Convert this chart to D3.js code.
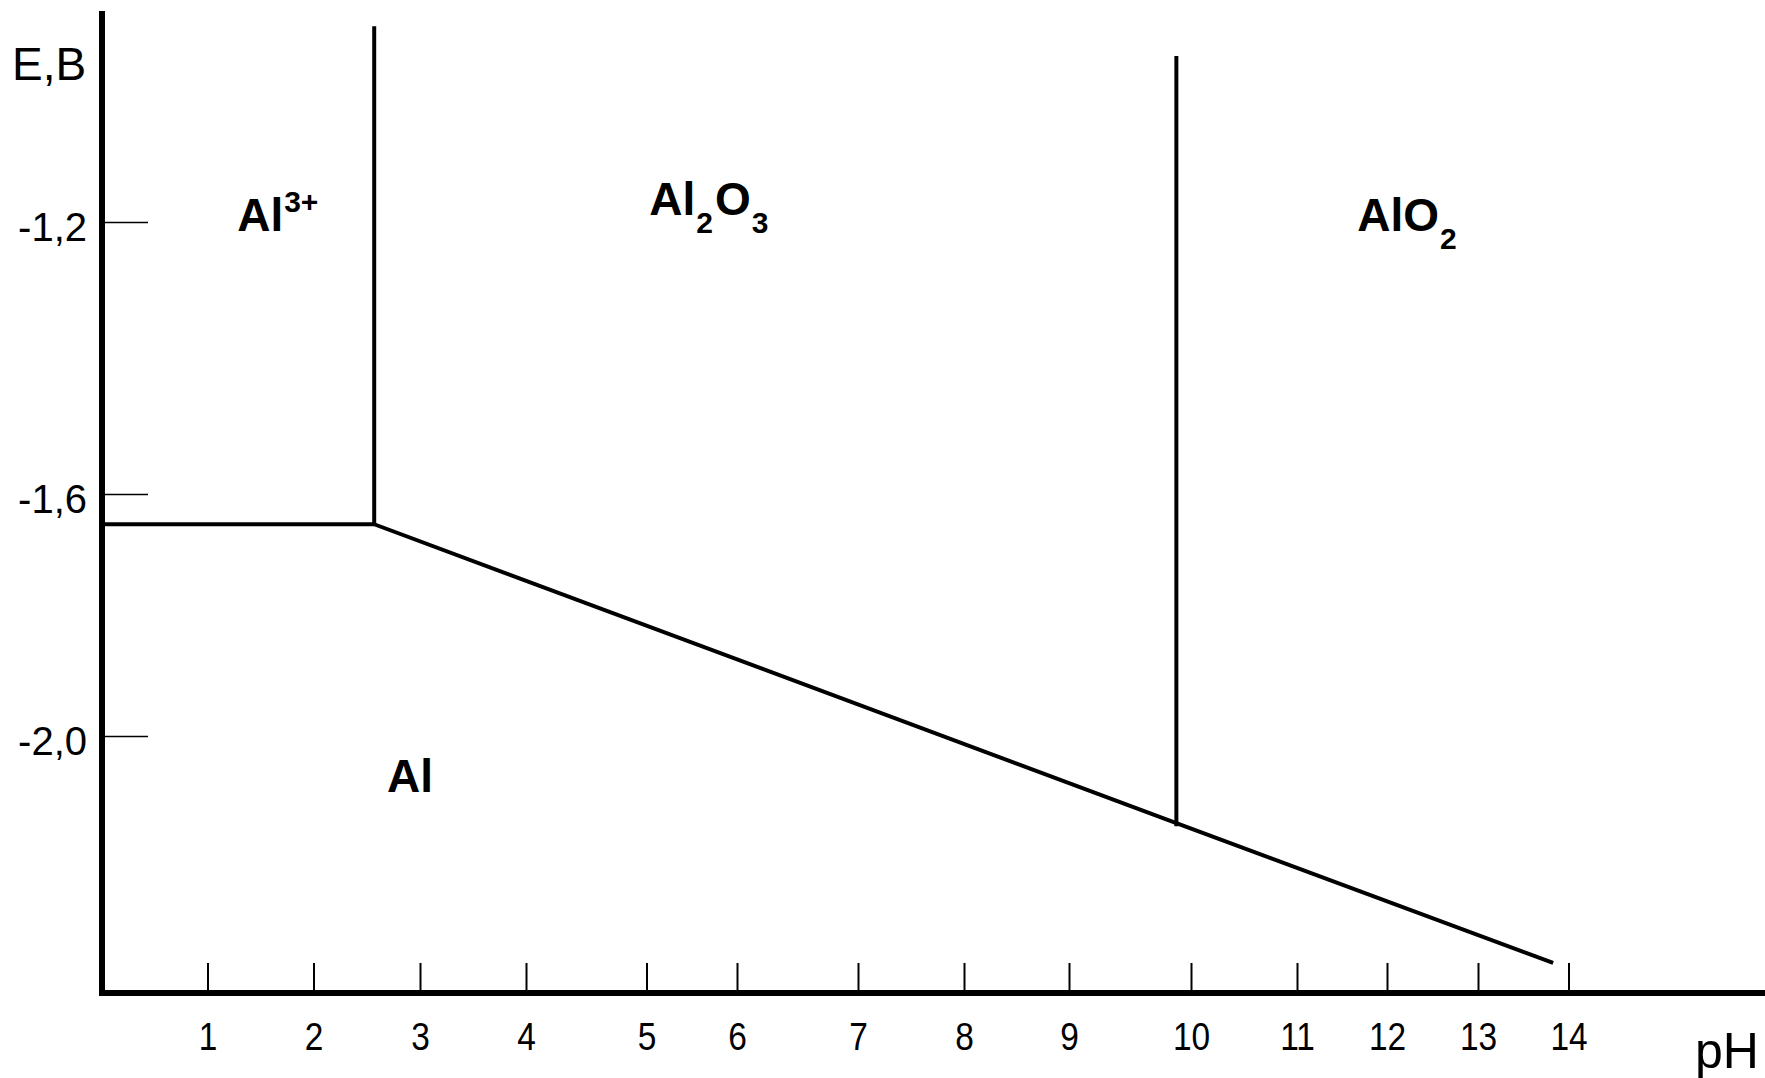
<!DOCTYPE html>
<html>
<head>
<meta charset="utf-8">
<script src="https://cdn.jsdelivr.net/npm/d3@7"></script>
<style>
  html, body { margin: 0; padding: 0; background: #fff; }
  svg { display: block; font-family: "Liberation Sans", Arial, sans-serif; }
</style>
</head>
<body>
<svg id="chart" width="1765" height="1078"></svg>
<script>
// ---------------- data ----------------
const phTicks = [1, 2, 3, 4, 5, 6, 7, 8, 9, 10, 11, 12, 13, 14];
const eTicks = [-1.2, -1.6, -2.0];

// boundary lines of the Pourbaix (E–pH) diagram of aluminium: [pH, E]
const lineAl3Al = [[0, -1.65], [2.57, -1.65]];
const lineAl3Al2O3 = [[2.57, -1.65], [2.57, -0.912]];
const lineOxideAl = [[2.57, -1.65], [9.88, -2.144], [13.83, -2.375]];
const lineAl2O3AlO2 = [[9.88, -2.149], [9.88, -0.956]];
const boundaries = [lineAl3Al, lineAl3Al2O3, lineOxideAl, lineAl2O3AlO2];

// region labels: anchor [pH, E]; part level 0 = normal, 1 = subscript, -1 = superscript
const regionLabels = [
  { parts: [["Al", 0], ["3+", -1]], at: [1.28, -1.2133] },
  { parts: [["Al", 0], ["2", 1], ["O", 0], ["3", 1]], at: [5.03, -1.19] },
  { parts: [["AlO", 0], ["2", 1]], at: [11.67, -1.2133] },
  { parts: [["Al", 0]], at: [2.69, -2.093] }
];

// ---------------- layout ----------------
const W = 1765, H = 1078;
const axisX = 102, axisTop = 11, axisY = 993, axisRight = 1765;
// hand-drawn axis: pixel position of pH 0..14 marks (non-uniform in the original)
const phDomain = [0, 1, 2, 3, 4, 5, 6, 7, 8, 9, 10, 11, 12, 13, 14];
const phRangePx = [101.5, 207.5, 313.5, 420, 526, 646.5, 737, 858, 964, 1069, 1191, 1297, 1387, 1478, 1568.5];
const eDomain = [-2.0, -1.6, -1.2];
const eRangePx = [736, 494, 222];

const x = d3.scaleLinear().domain(phDomain).range(phRangePx);
const y = d3.scaleLinear().domain(eDomain).range(eRangePx);

const svg = d3.select("#chart");
svg.append("rect").attr("width", W).attr("height", H).attr("fill", "#fff");

// y ticks (drawn inward)
const yAxis = svg.append("g")
  .attr("transform", `translate(${axisX},0)`)
  .call(d3.axisLeft(y).tickValues(eTicks).tickSize(-46).tickPadding(15)
    .tickFormat(d => d.toFixed(1).replace(".", ",")));
yAxis.select(".domain").remove();
yAxis.selectAll(".tick line").attr("stroke", "#000").attr("stroke-width", 1.5);
yAxis.selectAll(".tick text")
  .attr("font-size", 40).attr("fill", "#000").attr("dy", "0.45em")
  .attr("font-family", "'Liberation Sans', Arial, sans-serif");

// x ticks (drawn upward)
const xAxis = svg.append("g")
  .attr("transform", `translate(0,${axisY})`)
  .call(d3.axisBottom(x).tickValues(phTicks).tickSize(-30).tickPadding(30).tickFormat(d3.format("d")));
xAxis.select(".domain").remove();
xAxis.selectAll(".tick line").attr("stroke", "#000").attr("stroke-width", 2);
xAxis.selectAll(".tick text")
  .attr("font-size", 38).attr("fill", "#000")
  .attr("transform", "scale(0.88,1)")
  .attr("font-family", "'Liberation Sans', Arial, sans-serif");

// axis lines
svg.append("line")
  .attr("x1", axisX).attr("x2", axisX).attr("y1", axisTop).attr("y2", axisY + 3)
  .attr("stroke", "#000").attr("stroke-width", 6);
svg.append("line")
  .attr("x1", axisX - 3).attr("x2", axisRight).attr("y1", axisY).attr("y2", axisY)
  .attr("stroke", "#000").attr("stroke-width", 6);

// axis titles
svg.append("text").attr("x", 12).attr("y", 80)
  .attr("font-size", 46).attr("fill", "#000").text("E,B");
svg.append("text").attr("x", 1695).attr("y", 1068)
  .attr("font-size", 50).attr("fill", "#000").text("pH");

// boundary lines
const line = d3.line().x(d => x(d[0])).y(d => y(d[1]));
svg.append("g").selectAll("path").data(boundaries).join("path")
  .attr("d", line)
  .attr("fill", "none").attr("stroke", "#000").attr("stroke-width", 4)
  .attr("stroke-linejoin", "miter");

// region labels with sub/superscripts
const subShift = 18, supShift = -19;
regionLabels.forEach(lab => {
  const t = svg.append("text")
    .attr("x", x(lab.at[0])).attr("y", y(lab.at[1]))
    .attr("font-weight", "bold").attr("fill", "#000").attr("font-size", 46);
  let cur = 0;
  lab.parts.forEach(([s, lvl], i) => {
    const ts = t.append("tspan").text(s);
    const target = lvl === 0 ? 0 : (lvl > 0 ? subShift : supShift);
    const dy = target - cur;
    if (dy !== 0) ts.attr("dy", dy);
    if (i > 0) ts.attr("dx", lvl === 0 ? 2 : 1);
    ts.attr("font-size", lvl === 0 ? 46 : 30);
    cur = target;
  });
});
</script>
</body>
</html>
